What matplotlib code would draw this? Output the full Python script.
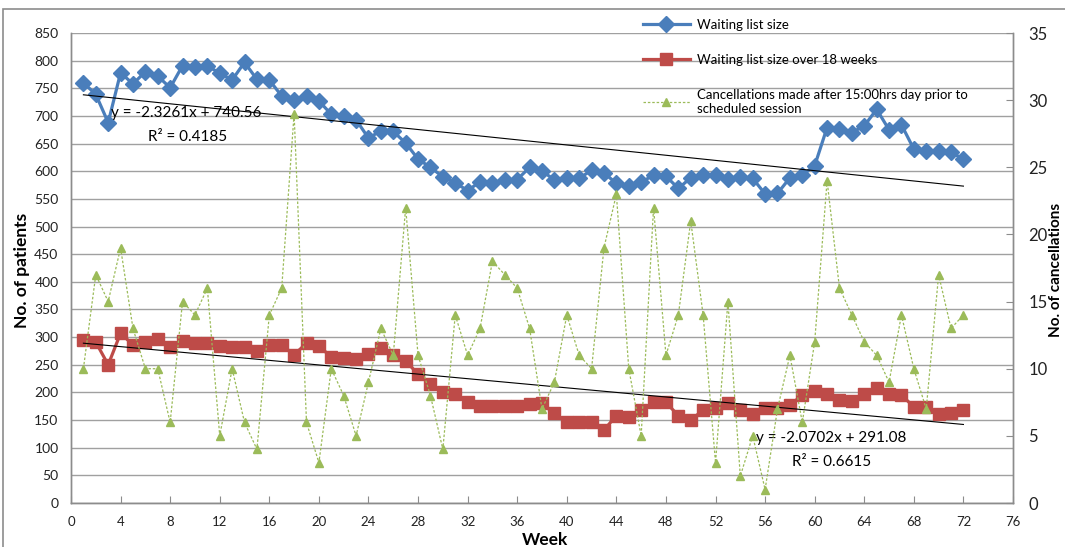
import matplotlib
matplotlib.use("Agg")
import matplotlib.pyplot as plt
from matplotlib.patches import Rectangle
import numpy as np

plt.rcParams['font.family'] = ['Lato', 'DejaVu Sans']

weeks = list(range(1, 73))

waiting_list = [760, 739, 688, 778, 758, 780, 772, 751, 791, 789, 791, 777, 765, 797, 766, 765,
                736, 729, 736, 727, 703, 699, 693, 660, 673, 672, 651, 622, 607, 590, 579, 565,
                581, 578, 584, 585, 607, 601, 584, 587, 587, 602, 597, 578, 574, 580, 593, 591,
                569, 588, 593, 593, 586, 590, 587, 559, 560, 588, 593, 610, 679, 676, 670, 682,
                712, 675, 684, 640, 637, 637, 634, 622]

over_18_weeks = [294, 291, 250, 307, 286, 292, 297, 283, 293, 289, 289, 284, 283, 282, 274, 286,
                 286, 268, 289, 284, 264, 262, 260, 270, 280, 268, 257, 233, 215, 200, 197, 183,
                 176, 175, 175, 175, 179, 180, 162, 147, 147, 147, 132, 158, 156, 168, 182, 182,
                 158, 150, 168, 171, 180, 168, 161, 171, 171, 177, 195, 202, 198, 187, 184, 198,
                 208, 198, 195, 174, 174, 161, 162, 168]

cancellations = [10, 17, 15, 19, 13, 10, 10, 6, 15, 14, 16, 5, 10, 6, 4, 14,
                 16, 29, 6, 3, 10, 8, 5, 9, 13, 11, 22, 11, 8, 4, 14, 11,
                 13, 18, 17, 16, 13, 7, 9, 14, 11, 10, 19, 23, 10, 5, 22, 11,
                 14, 21, 14, 3, 15, 2, 5, 1, 7, 11, 6, 12, 24, 16, 14, 12,
                 11, 9, 14, 10, 7, 17, 13, 14]

# Excel trendline coefficients (as printed on the chart)
trend_wl = (-2.3261, 740.56, 0.4185)
trend_18 = (-2.0702, 291.08, 0.6615)

blue = '#4A7EBB'
red = '#BE4B48'
green = '#9BBB59'
grid_gray = '#a0a0a0'

fig = plt.figure(figsize=(10.65, 5.47), dpi=100)
ax = fig.add_axes([71 / 1065, 1 - 503 / 547, (1013 - 71) / 1065, (503 - 33) / 547])
ax2 = ax.twinx()

l1, = ax.plot(weeks, waiting_list, color=blue, lw=2.3, marker='D', ms=8,
              mec=blue, mfc=blue, label='Waiting list size', zorder=3)
l2, = ax.plot(weeks, over_18_weeks, color=red, lw=2.3, marker='s', ms=9,
              mec=red, mfc=red, label='Waiting list size over 18 weeks', zorder=3)
l3, = ax2.plot(weeks, cancellations, color=green, lw=0.9, ls=(0, (2, 1.5)), marker='^', ms=6,
               mec=green, mfc=green,
               label='Cancellations made after 15:00hrs day prior to\nscheduled session')

# linear trendlines
xt = np.array([weeks[0], weeks[-1]])
ax.plot(xt, trend_wl[0] * xt + trend_wl[1], color='black', lw=0.8, zorder=4)
ax.plot(xt, trend_18[0] * xt + trend_18[1], color='black', lw=0.8, zorder=4)

ax.text(3.2, 705, 'y = %.4fx + %.2f' % (trend_wl[0], trend_wl[1]), fontsize=11,
        va='center', ha='left', zorder=5)
ax.text(9.4, 662, 'R² = %.4f' % trend_wl[2], fontsize=11, va='center', ha='center', zorder=5)
ax.text(55.3, 117, 'y = %.4fx + %.2f' % (trend_18[0], trend_18[1]), fontsize=11,
        va='center', ha='left', zorder=5)
ax.text(61.4, 74, 'R² = %.4f' % trend_18[2], fontsize=11, va='center', ha='center', zorder=5)

ax.set_xlim(0, 76)
ax.set_ylim(0, 850)
ax2.set_ylim(0, 35)
ax.set_xticks(range(0, 77, 4))
ax.set_yticks(range(0, 851, 50))
ax2.set_yticks(range(0, 36, 5))

ax.yaxis.grid(True, color=grid_gray, lw=1.0)
ax.set_axisbelow(True)

for a in (ax, ax2):
    a.spines['top'].set_visible(False)
    for s in ('left', 'right', 'bottom'):
        a.spines[s].set_color('#8c8c8c')
        a.spines[s].set_linewidth(1.0)

ax.tick_params(axis='y', length=0, pad=9, labelsize=10, labelcolor='#222222')
ax.tick_params(axis='x', direction='in', length=5, color='#8c8c8c', pad=9, labelsize=9.5,
               labelcolor='#222222')
ax2.tick_params(axis='y', direction='in', length=5, color='#8c8c8c', pad=11, labelsize=12,
                labelcolor='#222222')

fig.text(22 / 1065, 1 - 270 / 547, 'No. of patients', rotation=90, fontsize=12.5,
         fontweight='bold', ha='center', va='center')
fig.text(1056 / 1065, 1 - 270 / 547, 'No. of cancellations', rotation=90, fontsize=11,
         fontweight='bold', ha='center', va='center')
fig.text(545 / 1065, 1 - 540 / 547, 'Week', fontsize=12.5, fontweight='bold',
         ha='center', va='center')

ax2.legend(handles=[l1, l2, l3], loc='upper left', bbox_to_anchor=(636 / 1065, 1 - 12 / 547),
           bbox_transform=fig.transFigure, frameon=False, fontsize=9.5,
           handlelength=3.6, handletextpad=0.5, labelspacing=1.75, borderpad=0)

# outer chart border
fig.patches.append(Rectangle((3 / 1065, -0.1), 1.2, 0.1 + 1 - 9 / 547, transform=fig.transFigure,
                             fill=False, ec='#8c8c8c', lw=1.2))

fig.savefig('out.png', dpi=100)
